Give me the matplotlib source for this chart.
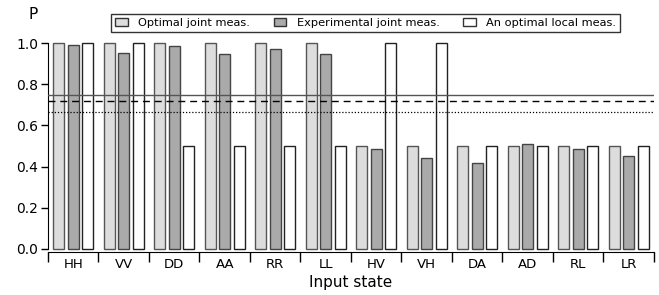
import numpy as np
import matplotlib
matplotlib.use("Agg")
import matplotlib.pyplot as plt
from matplotlib.patches import Patch

states = ['HH', 'VV', 'DD', 'AA', 'RR', 'LL', 'HV', 'VH', 'DA', 'AD', 'RL', 'LR']
optimal_joint = [1.0, 1.0, 1.0, 1.0, 1.0, 1.0, 0.5, 0.5, 0.5, 0.5, 0.5, 0.5]
experimental_joint = [0.992, 0.954, 0.984, 0.948, 0.972, 0.947,
                      0.483, 0.440, 0.416, 0.508, 0.487, 0.453]
optimal_local = [1.0, 1.0, 0.5, 0.5, 0.5, 0.5, 1.0, 1.0, 0.5, 0.5, 0.5, 0.5]
ref_lines = [0.75, 0.72, 2.0 / 3.0]

plt.rcParams['font.family'] = 'DejaVu Sans'
fig = plt.figure(figsize=(6.59, 2.95), dpi=100)
ax = fig.add_axes([0.0728, 0.1458, 0.9196, 0.7082])

x = np.arange(len(states)) + 0.5
w = 0.22
step = 0.285
ax.bar(x - step, optimal_joint, w, color='#dddddd', edgecolor='#555555', linewidth=1, clip_on=False, zorder=2)
ax.bar(x, experimental_joint, w, color='#aaaaaa', edgecolor='#444444', linewidth=1, clip_on=False, zorder=2)
ax.bar(x + step, optimal_local, w, color='white', edgecolor='#222222', linewidth=1, clip_on=False, zorder=2)

ax.axhline(ref_lines[0], color='#555555', linewidth=1, zorder=3)
ax.axhline(ref_lines[1], color='black', linewidth=1, linestyle=(0, (5, 3.5)), zorder=3)
ax.axhline(ref_lines[2], color='black', linewidth=0.9, linestyle=(0, (1, 1.5)), zorder=3)

ax.set_xlim(0, len(states))
ax.set_ylim(-0.015, 1.0)
ax.spines['top'].set_visible(False)
ax.spines['right'].set_visible(False)
ax.spines['left'].set_bounds(0, 1.0)

ax.set_yticks([0, 0.2, 0.4, 0.6, 0.8, 1.0])
ax.set_yticklabels(['0.0', '0.2', '0.4', '0.6', '0.8', '1.0'])
ax.tick_params(axis='y', direction='out', length=5, width=1, labelsize=10, pad=2)

ax.set_xticks(np.arange(len(states) + 1))
ax.set_xticklabels([])
ax.set_xticks(x, minor=True)
ax.set_xticklabels(states, minor=True)
ax.tick_params(axis='x', which='major', direction='out', length=7, width=1)
ax.tick_params(axis='x', which='minor', length=0, labelsize=9.5, pad=4)
ax.set_xlabel('Input state', fontsize=11, labelpad=3)

fig.text(0.05, 0.952, 'P', fontsize=11, ha='center', va='center')

handles = [Patch(facecolor='#dddddd', edgecolor='#333333', label='Optimal joint meas.'),
           Patch(facecolor='#aaaaaa', edgecolor='#333333', label='Experimental joint meas.'),
           Patch(facecolor='white', edgecolor='#333333', label='An optimal local meas.')]
leg = fig.legend(handles=handles, loc='center', bbox_to_anchor=(0.555, 0.922), ncol=3,
                 fontsize=8.2, frameon=True, fancybox=False, handlelength=1.1, handleheight=0.7,
                 columnspacing=2.1, handletextpad=0.9, borderpad=0.35)
leg.get_frame().set_edgecolor('black')
leg.get_frame().set_linewidth(1)

fig.savefig('out.png', dpi=100)
